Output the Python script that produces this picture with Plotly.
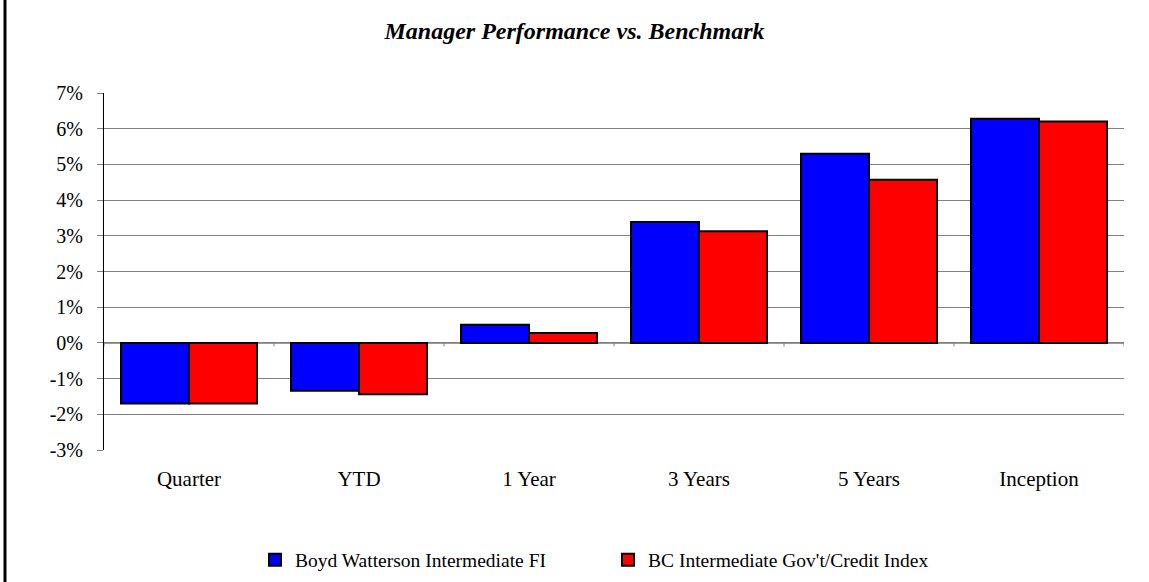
import plotly.graph_objects as go

# Trailing-period returns (%)
periods = ["Quarter", "YTD", "1 Year", "3 Years", "5 Years", "Inception"]
manager = [-1.70, -1.34, 0.51, 3.39, 5.30, 6.28]
benchmark = [-1.70, -1.44, 0.28, 3.13, 4.57, 6.20]
tick_vals = [-3, -2, -1, 0, 1, 2, 3, 4, 5, 6, 7]
tick_text = [f"{v}%" for v in tick_vals]

W, H = 1149, 582
ML, MR, MT, MB = 104, 25, 93, 132
FONT = "Liberation Serif"

fig = go.Figure()
fig.add_bar(x=periods, y=manager, name="Boyd Watterson Intermediate FI",
            marker=dict(color="#0000FF", line=dict(color="black", width=2)))
fig.add_bar(x=periods, y=benchmark, name="BC Intermediate Gov't/Credit Index",
            marker=dict(color="#FF0000", line=dict(color="black", width=2)))

# small tick marks on the zero line between categories
for i in range(len(periods) + 1):
    fig.add_shape(type="line", xref="x", yref="y",
                  x0=i - 0.5, x1=i - 0.5, y0=0, y1=-0.1,
                  line=dict(color="#808080", width=1))

# zero line
fig.add_shape(type="line", xref="paper", yref="y", x0=0, x1=1, y0=0, y1=0,
              line=dict(color="black", width=1), layer="below")

# left frame edge of the chart box
pw = W - ML - MR
fig.add_shape(type="line", xref="paper", yref="paper",
              x0=(5 - ML) / pw, x1=(5 - ML) / pw, y0=-2, y1=2,
              line=dict(color="black", width=3))

fig.update_layout(
    width=W, height=H,
    margin=dict(l=ML, r=MR, t=MT, b=MB, autoexpand=False),
    paper_bgcolor="white", plot_bgcolor="white",
    barmode="group", bargap=0.2, bargroupgap=0,
    font=dict(family=FONT, size=20, color="black"),
    title=dict(text="<b><i>Manager Performance vs. Benchmark</i></b>",
               x=0.5, xanchor="center", y=1 - 31 / H, yanchor="middle",
               font=dict(family=FONT, size=24)),
    xaxis=dict(showgrid=False, showline=False, ticks="",
               range=[-0.5, len(periods) - 0.5], automargin=False,
               tickfont=dict(size=21), ticklabelstandoff=14),
    yaxis=dict(range=[-3, 7], tickvals=tick_vals, ticktext=tick_text,
               showgrid=True, gridcolor="#808080", gridwidth=1,
               zeroline=False, showline=True, linecolor="black", linewidth=1,
               ticks="outside", ticklen=6, tickcolor="#808080", automargin=False,
               tickfont=dict(size=20), ticklabelstandoff=10),
    legend=dict(orientation="h", xref="container", yref="container",
                x=255 / W, xanchor="left",
                y=1 - 560 / H, yanchor="middle",
                entrywidth=308, entrywidthmode="pixels",
                font=dict(size=19.5), itemwidth=30),
    showlegend=True,
)

fig.write_html("out.html")
